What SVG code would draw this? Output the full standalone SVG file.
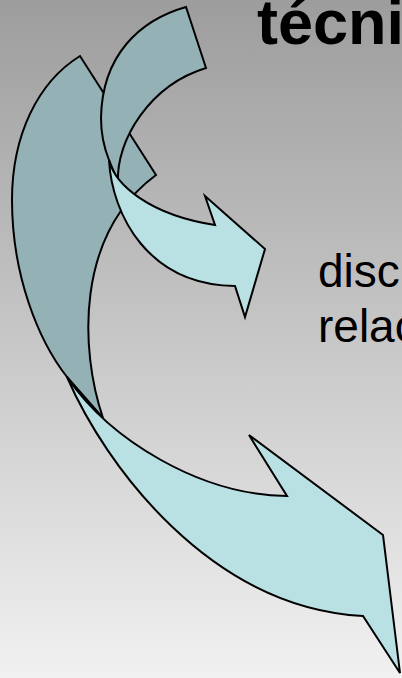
<svg xmlns="http://www.w3.org/2000/svg" width="402" height="678" viewBox="0 0 402 678">
  <defs>
    <linearGradient id="bg" x1="0" y1="0" x2="0" y2="1">
      <stop offset="0" stop-color="#9d9d9d"/>
      <stop offset="1" stop-color="#f1f1f1"/>
    </linearGradient>
  </defs>
  <style>
    .back { fill: #94b2b6; stroke: #000; stroke-width: 2; stroke-linejoin: miter; }
    .front { fill: #b9e0e3; stroke: #000; stroke-width: 2; stroke-linejoin: miter; }
    .title { font-family: "Liberation Sans", Arial, sans-serif; font-weight: bold; font-size: 63px; fill: #000; }
    .body { font-family: "Liberation Sans", Arial, sans-serif; font-size: 46px; fill: #000; }
  </style>
  <rect x="0" y="0" width="402" height="678" fill="url(#bg)"/>
  <g id="big-arrow">
    <path class="back" d="M80,56 C38,82 12,135 12,200 C12,275 38,340 67,377 L103,418 C80,350 75,235 156,175 Z"/>
    <path class="front" d="M67,377 C105,465 210,608 363,616 L400,673 L383,535 L249,435 L287,496 C200,495 110,440 67,377 Z"/>
  </g>
  <g id="small-arrow">
    <path class="back" d="M186,7 C140,20 102,55 101,118 C101,135 105,150 109,160 L118,182 C116,140 150,85 206,68 Z"/>
    <path class="front" d="M109,160 C112,215 148,285 235,286 L245,317 L265,249 L205,196 L215,225 C150,215 115,185 109,160 Z"/>
  </g>
  <g id="texts">
    <text class="title" x="257" y="44">técni</text>
    <text class="body" x="318" y="287">disc</text>
    <text class="body" x="318" y="342">relac</text>
  </g>
</svg>
